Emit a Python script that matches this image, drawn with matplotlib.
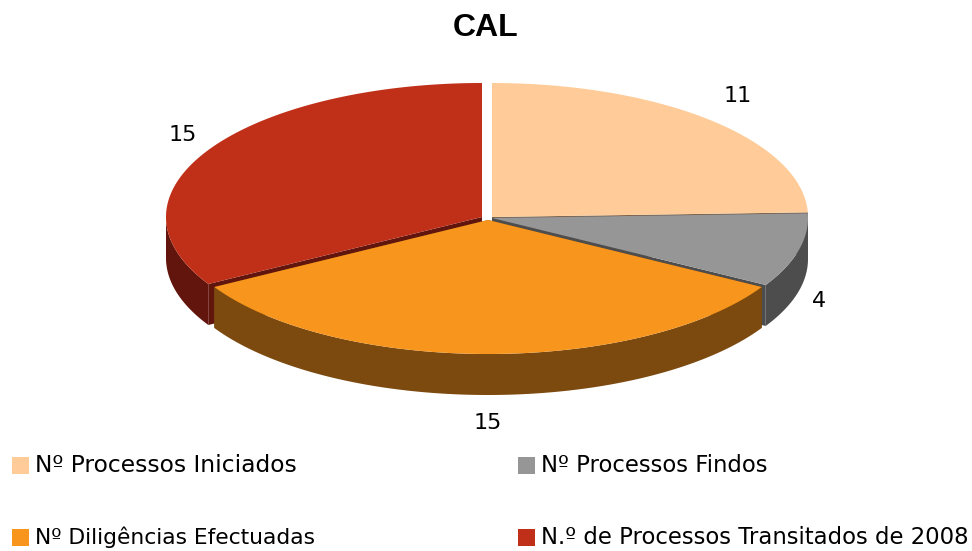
import numpy as np
import matplotlib
matplotlib.use('Agg')
import matplotlib.pyplot as plt

# Chart data
categories = ['Nº Processos Iniciados', 'Nº Processos Findos',
              'Nº Diligências Efectuadas', 'N.º de Processos Transitados de 2008']
values = [11, 4, 15, 15]

# Colours of the top faces and the darker side faces
top_colors = ['#FFCC99', '#969696', '#F8951D', '#C02F18']
side_colors = ['#80664C', '#4D4D4D', '#7C4A0E', '#62150C']

# Pie geometry in pixels, each slice has its own exploded centre
centers = [(492, 217), (492, 218), (488, 220), (482, 217)]
rx, ry = 316, 134
depth = 41
label_pos = [(738, 96), (819, 301), (488, 423), (183, 135)]
legend_pos = [(12, 457), (518, 457), (12, 529), (518, 529)]
# DejaVu runs a bit wider than the original font on some labels
legend_sizes = [16.8, 16.4, 15.7, 16.4]


def rim(center, a0, a1):
    # points on the ellipse between two angles in degrees
    t = np.radians(np.linspace(a0, a1, max(2, int(abs(a1 - a0) * 2))))
    return np.column_stack([center[0] + rx * np.cos(t), center[1] - ry * np.sin(t)])


def draw_slice(ax, center, a0, a1, top, side):
    # a0 > a1, we go clockwise
    apex = np.array(center, dtype=float)
    down = np.array([0, depth])

    # cut faces
    for a in (a0, a1):
        edge = rim(center, a, a)[0]
        ax.fill(*zip(apex, edge, edge + down, apex + down), color=side, lw=0)

    # outer wall, only the front half of the pie shows it
    lo = max(a1, -180)
    hi = min(a0, 0)
    if hi > lo:
        arc = rim(center, hi, lo)
        wall = np.vstack([arc, (arc + down)[::-1]])
        ax.fill(wall[:, 0], wall[:, 1], color=side, lw=0)

    # top face
    pts = np.vstack([apex, rim(center, a0, a1)])
    ax.fill(pts[:, 0], pts[:, 1], color=top, lw=0)


fig = plt.figure(figsize=(9.72, 5.51), dpi=100)
ax = fig.add_axes([0, 0, 1, 1])
ax.set_xlim(0, 972)
ax.set_ylim(551, 0)
ax.axis('off')

# Slice angles start at twelve o'clock and run clockwise
angles = 90 - np.cumsum([0] + values) / sum(values) * 360

# Back to front: red, peach, grey, orange
for i in [3, 0, 1, 2]:
    draw_slice(ax, centers[i], angles[i], angles[i + 1], top_colors[i], side_colors[i])

ax.text(486, 28.5, 'CAL', ha='center', va='center', fontsize=23, fontweight='bold',
        family='Liberation Sans', color='black')

for v, (x, y) in zip(values, label_pos):
    ax.text(x, y, str(v), ha='center', va='center', fontsize=16, color='black')

for name, color, size, (x, y) in zip(categories, top_colors, legend_sizes, legend_pos):
    ax.fill([x, x + 17, x + 17, x], [y, y, y + 17, y + 17], color=color, lw=0)
    ax.text(x + 23, y + 8, name, ha='left', va='center', fontsize=size, color='black')

fig.savefig('out.png', dpi=100)
